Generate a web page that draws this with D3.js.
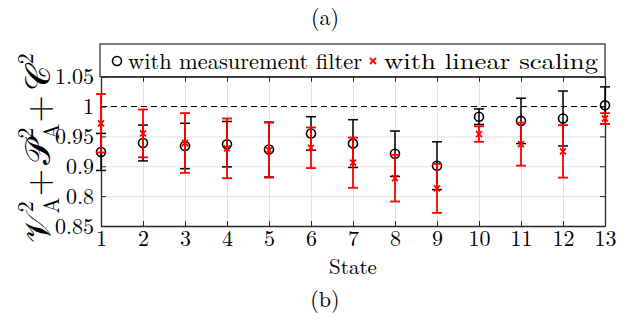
<!DOCTYPE html>
<html>
<head>
<meta charset="utf-8">
<script src="https://cdn.jsdelivr.net/npm/d3@7"></script>
<style>
body { margin: 0; background: #fff; }
svg text { font-family: "Latin Modern Roman", "Liberation Serif", "DejaVu Serif", serif; fill: #000; }
</style>
</head>
<body>
<div id="chart"></div>
<script>
// values
var states = [1,2,3,4,5,6,7,8,9,10,11,12,13];
var filterVal = [0.924,0.939,0.934,0.937,0.928,0.955,0.938,0.921,0.901,0.983,0.976,0.980,1.002];
var filterErr = [0.031,0.030,0.038,0.038,0.046,0.028,0.040,0.038,0.040,0.013,0.038,0.046,0.031];
var scaleVal = [0.972,0.955,0.939,0.930,0.927,0.931,0.906,0.880,0.863,0.954,0.937,0.925,0.980];
var scaleErr = [0.049,0.040,0.050,0.050,0.046,0.034,0.042,0.039,0.041,0.013,0.036,0.044,0.009];
var yTicks = [1.05,1,0.95,0.9,0.85,0.8];
var yTickLabels = ["1.05","1","0.95","0.9","0.8","0.85"];
var legendNames = ["with measurement filter","with linear scaling"];

var W = 630, H = 320;
var pLeft = 101, pRight = 605, pTop = 76.7, pBottom = 226;

var svg = d3.select("#chart").append("svg")
	.attr("width", W)
	.attr("height", H);

var x = d3.scaleLinear().domain([1,13]).range([pLeft, pRight]);
var y = d3.scaleLinear().domain([0.8,1.05]).range([pBottom, pTop]);

// grid
svg.append("g")
	.attr("transform", "translate(0," + pBottom + ")")
	.call(d3.axisBottom(x).tickValues(states).tickSize(-(pBottom-pTop)).tickFormat(""))
	.call(function(g){ g.select(".domain").remove(); g.selectAll("line").attr("stroke","#e3e3e3"); });
svg.append("g")
	.attr("transform", "translate(" + pLeft + ",0)")
	.call(d3.axisLeft(y).tickValues(yTicks).tickSize(-(pRight-pLeft)).tickFormat(""))
	.call(function(g){ g.select(".domain").remove(); g.selectAll("line").attr("stroke","#e3e3e3"); });

// reference line at 1
svg.append("line")
	.attr("x1", pLeft).attr("x2", pRight)
	.attr("y1", y(1)).attr("y2", y(1))
	.attr("stroke","#000").attr("stroke-width",1.1)
	.attr("stroke-dasharray","6,4");

// axes with inward ticks
function styleAxis(g){
	g.select(".domain").attr("stroke","#262626").attr("stroke-width",1.3);
	g.selectAll(".tick line").attr("stroke","#262626").attr("stroke-width",1);
	g.selectAll("text").style("font-size","22px").attr("fill","#000");
}
svg.append("g")
	.attr("transform", "translate(0," + pBottom + ")")
	.call(d3.axisBottom(x).tickValues(states).tickSizeInner(-5).tickSizeOuter(0).tickPadding(4).tickFormat(d3.format("d")))
	.call(styleAxis);
svg.append("g")
	.attr("transform", "translate(0," + pTop + ")")
	.call(d3.axisTop(x).tickValues(states).tickSizeInner(-5).tickSizeOuter(0).tickFormat(""))
	.call(styleAxis);
svg.append("g")
	.attr("transform", "translate(" + pLeft + ",0)")
	.call(d3.axisLeft(y).tickValues(yTicks).tickSizeInner(-5).tickSizeOuter(0).tickPadding(7)
		.tickFormat(function(d,i){ return yTickLabels[i]; }))
	.call(styleAxis);
svg.append("g")
	.attr("transform", "translate(" + pRight + ",0)")
	.call(d3.axisRight(y).tickValues(yTicks).tickSizeInner(-5).tickSizeOuter(0).tickFormat(""))
	.call(styleAxis);

// error bars
function drawSeries(vals, errs, color, lw, marker){
	var g = svg.append("g");
	var cap = 5;
	states.forEach(function(s, i){
		var cx = x(s);
		var lo = y(vals[i] - errs[i]), hi = y(vals[i] + errs[i]);
		g.append("line").attr("x1",cx).attr("x2",cx).attr("y1",lo).attr("y2",hi)
			.attr("stroke",color).attr("stroke-width",lw);
		g.append("line").attr("x1",cx-cap).attr("x2",cx+cap).attr("y1",lo).attr("y2",lo)
			.attr("stroke",color).attr("stroke-width",lw);
		g.append("line").attr("x1",cx-cap).attr("x2",cx+cap).attr("y1",hi).attr("y2",hi)
			.attr("stroke",color).attr("stroke-width",lw);
		marker(g, cx, y(vals[i]));
	});
}
function circleMark(g, cx, cy){
	g.append("circle").attr("cx",cx).attr("cy",cy).attr("r",4.5)
		.attr("fill","none").attr("stroke","#000").attr("stroke-width",1.6);
}
function crossMark(g, cx, cy){
	var s = 3;
	g.append("path")
		.attr("d","M"+(cx-s)+","+(cy-s)+"L"+(cx+s)+","+(cy+s)+"M"+(cx-s)+","+(cy+s)+"L"+(cx+s)+","+(cy-s))
		.attr("stroke","#ff0000").attr("stroke-width",1.8).attr("fill","none");
}
drawSeries(filterVal, filterErr, "#000", 1.5, circleMark);
drawSeries(scaleVal, scaleErr, "#ff0000", 1.8, crossMark);

// legend
var leg = svg.append("g");
leg.append("rect")
	.attr("x", pLeft - 1).attr("y", 44)
	.attr("width", pRight - pLeft + 1).attr("height", pTop - 44)
	.attr("fill","#fff").attr("stroke","#262626").attr("stroke-width",1.2);
circleMark(leg, 117, 61);
leg.append("text").attr("x",128).attr("y",69).style("font-size","21.5px")
	.attr("textLength",234).attr("lengthAdjust","spacingAndGlyphs").text(legendNames[0]);
crossMark(leg, 373, 61);
leg.append("text").attr("x",384).attr("y",69).style("font-size","21.5px")
	.attr("textLength",214).attr("lengthAdjust","spacingAndGlyphs").text(legendNames[1]);

// labels
svg.append("text").attr("x",353).attr("y",274).attr("text-anchor","middle")
	.style("font-size","21px").text("State");
svg.append("text").attr("x",325).attr("y",25).attr("text-anchor","middle")
	.style("font-size","22px").text("(a)");
svg.append("text").attr("x",325).attr("y",307).attr("text-anchor","middle")
	.style("font-size","22px").text("(b)");

var yl = svg.append("text")
	.attr("transform","translate(50,148) rotate(-90)")
	.attr("text-anchor","middle")
	.style("font-size","35px");
yl.append("tspan").text("\u{1D4B1}");
yl.append("tspan").attr("dy",9).style("font-size","22px").text("A");
yl.append("tspan").attr("dx",-15).attr("dy",-26).style("font-size","22px").text("2");
yl.append("tspan").attr("dx",5).attr("dy",17).text("+");
yl.append("tspan").attr("dx",4).text("\u{1D4AB}");
yl.append("tspan").attr("dy",9).style("font-size","22px").text("A");
yl.append("tspan").attr("dx",-15).attr("dy",-26).style("font-size","22px").text("2");
yl.append("tspan").attr("dx",5).attr("dy",17).text("+");
yl.append("tspan").attr("dx",4).text("\u{1D49E}");
yl.append("tspan").attr("dx",1).attr("dy",-17).style("font-size","22px").text("2");
</script>
</body>
</html>
